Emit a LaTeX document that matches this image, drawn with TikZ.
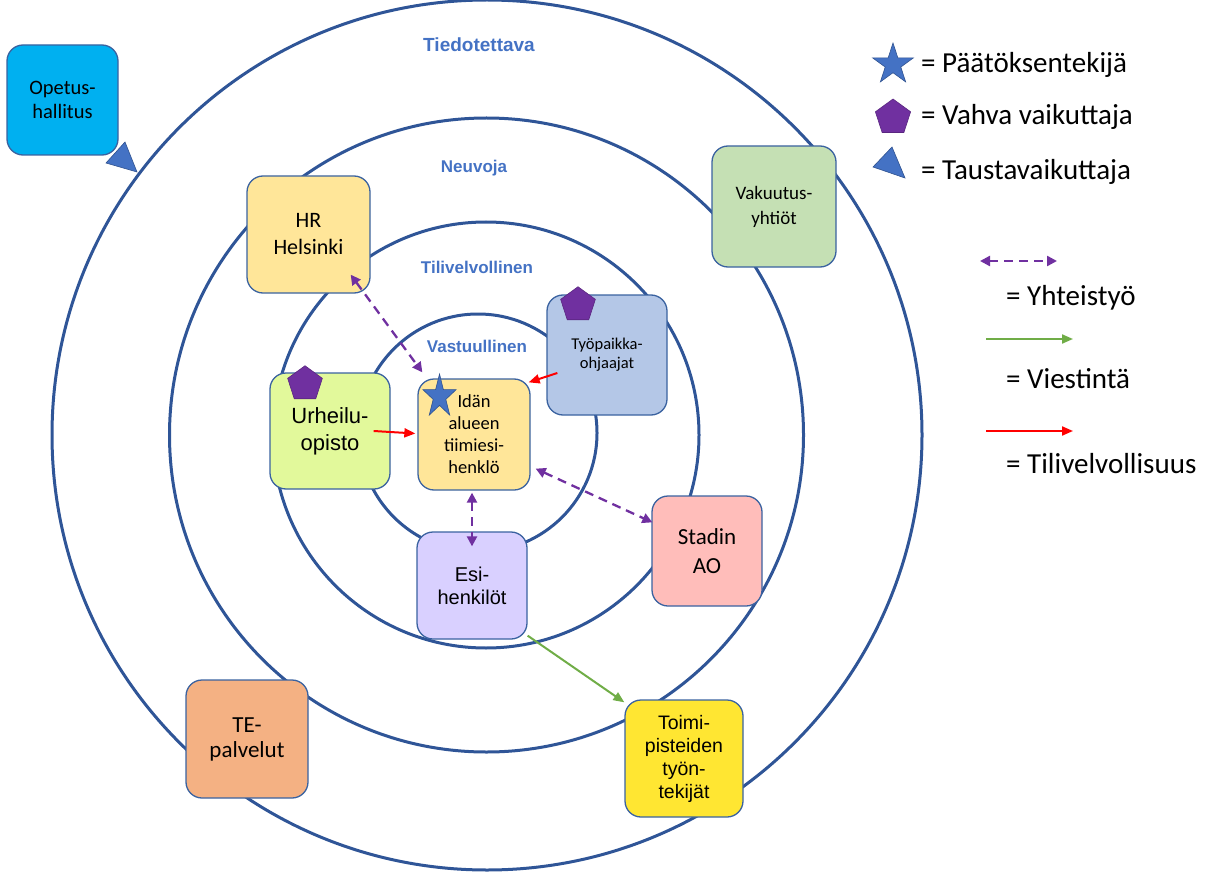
\documentclass[tikz,border=0pt]{standalone}
\usepackage{fontspec}
\setmainfont{Carlito}
\newfontfamily\arialf{Liberation Sans}
\usetikzlibrary{arrows.meta,shapes.geometric}
\definecolor{ringblue}{HTML}{2F5597}
\definecolor{boxline}{HTML}{3A62A0}
\definecolor{lblblue}{HTML}{4472C4}
\definecolor{purp}{HTML}{7030A0}
\definecolor{grn}{HTML}{70AD47}
\definecolor{redc}{HTML}{FF0000}
\definecolor{starfill}{HTML}{4472C4}
\definecolor{stardraw}{HTML}{2F528F}
\definecolor{cOpetus}{HTML}{00B0F0}
\definecolor{cYel}{HTML}{FFE699}
\definecolor{cGreen}{HTML}{C5E0B4}
\definecolor{cTyo}{HTML}{B4C7E7}
\definecolor{cUrh}{HTML}{E2F99B}
\definecolor{cEsi}{HTML}{D9D0FF}
\definecolor{cStadin}{HTML}{FFBDBA}
\definecolor{cToimi}{HTML}{FFE632}
\definecolor{cTE}{HTML}{F4B183}
\begin{document}
\begin{tikzpicture}[x=1pt,y=-1pt,
  ring/.style={draw=ringblue, line width=3pt},
  ringlabel/.style={text=lblblue, font=\arialf\bfseries\fontsize{17}{20}\selectfont, inner sep=0pt},
  box/.style={draw=boxline, line width=1.3pt, rounded corners=16pt, align=center, inner sep=0pt, text=black},
  collab/.style={draw=purp, line width=2.3pt, dash pattern=on 9pt off 6pt, {Triangle[length=10pt,width=10pt,sharp]}-{Triangle[length=10pt,width=10pt,sharp]}},
  comm/.style={draw=grn, line width=2pt, -{Triangle[length=11pt,width=9pt]}},
  acc/.style={draw=redc, line width=2pt, -{Triangle[length=11pt,width=9pt]}},
  pent/.style={regular polygon, regular polygon sides=5, fill=purp, draw=purp!80!black, line width=0.6pt, minimum size=36.5pt, inner sep=0pt},
  tri/.style={fill=starfill, draw=stardraw, line width=0.6pt},
  legtext/.style={anchor=base west, inner sep=0pt, font=\fontsize{29}{34}\selectfont}
]
\useasboundingbox (0,0) rectangle (1209,877);

% rings
\draw[ring] (487,435) circle[radius=435pt];
\draw[ring] (486.5,435) circle[radius=317pt];
\draw[ring] (486,435) circle[radius=213pt];
\draw[ring] (478,433) circle[radius=119pt];

% ring labels
\node[ringlabel, font=\arialf\bfseries\fontsize{19}{22}\selectfont] (ltied) at (479,45) {Tiedotettava};
\node[ringlabel] (lneuv) at (474,168) {Neuvoja};
\node[ringlabel] (ltili) at (477,267) {Tilivelvollinen};
\node[ringlabel] (lvast) at (477,346) {Vastuullinen};

% boxes
\node[box, fill=cOpetus, minimum width=111pt, minimum height=110pt, font=\fontsize{20.5}{24}\selectfont] (opetus) at (62.5,100) {Opetus-\\hallitus};
\node[box, fill=cYel, minimum width=123pt, minimum height=117pt, font=\fontsize{22}{27}\selectfont] (hr) at (308.5,234.5) {HR\\Helsinki};
\node[box, fill=cGreen, minimum width=124pt, minimum height=121pt, font=\fontsize{19}{25}\selectfont] (vak) at (774,206.5) {Vakuutus-\\yhtiöt};
\node[box, fill=cTyo, minimum width=120pt, minimum height=120pt, font=\fontsize{16.5}{19}\selectfont] (typ) at (607,355) {Työpaikka-\\ohjaajat};
\node[box, fill=cUrh, minimum width=120pt, minimum height=116pt, font=\arialf\fontsize{22}{27}\selectfont] (urh) at (330,431) {Urheilu-\\opisto};
\node[box, fill=cYel, minimum width=112pt, minimum height=111pt, font=\fontsize{18.5}{22}\selectfont] (idan) at (474,434.5) {Idän\\alueen\\tiimiesi-\\henklö};
\node[box, fill=cEsi, minimum width=110pt, minimum height=107pt, font=\arialf\fontsize{20}{23}\selectfont] (esi) at (472,585.5) {Esi-\\henkilöt};
\node[box, fill=cStadin, minimum width=110pt, minimum height=110pt, font=\fontsize{23}{29}\selectfont] (stadin) at (707,551) {Stadin\\AO};
\node[box, fill=cToimi, minimum width=118pt, minimum height=117pt, font=\arialf\fontsize{19.5}{23}\selectfont] (toimi) at (684,758.5) {Toimi-\\pisteiden\\työn-\\tekijät};
\node[box, fill=cTE, minimum width=122pt, minimum height=118pt, font=\fontsize{23}{25}\selectfont] (te) at (247,739) {TE-\\palvelut};

% markers
\fill[tri] (106,163) -- (125,142) -- (137,172) -- cycle;
\node[pent] (p1) at (578,305) {};
\node[pent] (p2) at (305,384) {};
\filldraw[fill=starfill, draw=stardraw, line width=0.6pt]
  plot[samples at={0,...,9}] ({439.5 + 17.4*cos(90+36*\x)*(1-0.618*mod(\x,2))}, {396.7 - 22.7*sin(90+36*\x)*(1-0.618*mod(\x,2))}) -- cycle;

% connectors
\draw[collab] ([xshift=-20pt,yshift=19pt]hr.south east) -- ([xshift=5pt,yshift=6pt]idan.north west);
\draw[acc] ([xshift=11pt,yshift=-18pt]typ.west) -- ([xshift=-2pt,yshift=-4pt]idan.north east);
\draw[acc] ([xshift=-17pt]urh.east) -- ([xshift=-2pt,yshift=1pt]idan.west);
\draw[collab] ([xshift=5pt,yshift=22pt]idan.south east) -- ([xshift=1pt,yshift=-27pt]stadin.north west);
\draw[collab] ([xshift=-2pt,yshift=-2pt]idan.south) -- ([yshift=-15pt]esi.north);
\draw[comm] ([yshift=4pt]esi.south east) -- ([yshift=-3pt]toimi.north west);

% legend
\filldraw[fill=starfill, draw=stardraw, line width=0.6pt]
  plot[samples at={0,...,9}] ({893 + 21.5*cos(90+36*\x)*(1-0.618*mod(\x,2))}, {64.5 - 21.5*sin(90+36*\x)*(1-0.618*mod(\x,2))}) -- cycle;
\node[pent, minimum size=37pt] (p3) at (893,117.5) {};
\fill[tri] (873,167) -- (892,147) -- (905,178) -- cycle;
\node[legtext] (t1) at (921,73) {= Päätöksentekijä};
\node[legtext] (t2) at (921,125) {= Vahva vaikuttaja};
\node[legtext] (t3) at (921,180) {= Taustavaikuttaja};

\coordinate (lc1) at (980,261);
\coordinate (lc2) at (1057,261);
\coordinate (lg1) at (986,339);
\coordinate (lg2) at (1073,339);
\coordinate (lr1) at (986,431);
\coordinate (lr2) at (1073,431);
\draw[collab] (lc1) -- (lc2);
\draw[comm] (lg1) -- (lg2);
\draw[acc] (lr1) -- (lr2);
\node[legtext] (t4) at (1006,305) {= Yhteistyö};
\node[legtext] (t5) at (1006,388) {= Viestintä};
\node[legtext] (t6) at (1006,473) {= Tilivelvollisuus};
\end{tikzpicture}
\end{document}
